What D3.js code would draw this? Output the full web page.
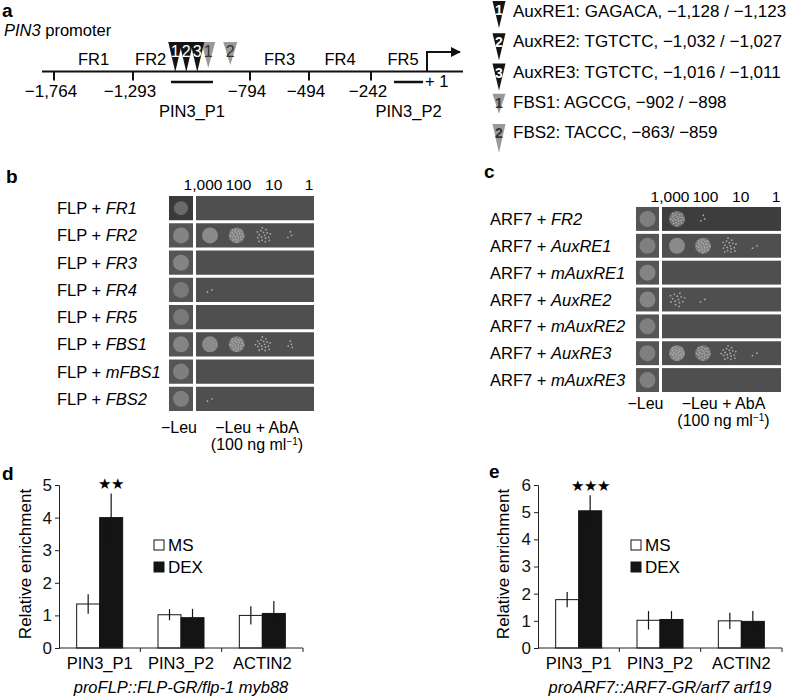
<!DOCTYPE html>
<html>
<head>
<meta charset="utf-8">
<script src="https://cdn.jsdelivr.net/npm/d3@7"></script>
<style>
body { margin: 0; background: #fff; }
svg { font-family: "Liberation Sans", Arial, Helvetica, sans-serif; }
</style>
</head>
<body>
<div id="fig"></div>
<script>
// panel a - PIN3 promoter schematic
var tickPos = [-1764, -1293, -794, -494, -242];
var fragNames = ["FR1", "FR2", "FR3", "FR4", "FR5"];
var fragStart = [-1764, -1293, -794, -494, -242];
var fragEnd = [-1293, -794, -494, -242, 1];
var motifIds = ["1", "2", "3", "1", "2"];
var motifType = ["AuxRE", "AuxRE", "AuxRE", "FBS", "FBS"];
var motifStart = [-1128, -1032, -1016, -902, -863];
var motifEnd = [-1123, -1027, -1011, -898, -859];
var motifLabels = ["AuxRE1: GAGACA, \u22121,128 / \u22121,123",
                   "AuxRE2: TGTCTC, \u22121,032 / \u22121,027",
                   "AuxRE3: TGTCTC, \u22121,016 / \u22121,011",
                   "FBS1: AGCCG, \u2212902 / \u2212898",
                   "FBS2: TACCC, \u2212863/ \u2212859"];
var ampNames = ["PIN3_P1", "PIN3_P2"];
var ampStart = [-1131, -142];
var ampEnd = [-952, -16];

// panels b, c - yeast one-hybrid plates (growth score 0-3 per spot: -Leu, 1000, 100, 10, 1)
var dilutions = ["1,000", "100", "10", "1"];
var flpRows = ["FR1", "FR2", "FR3", "FR4", "FR5", "FBS1", "mFBS1", "FBS2"];
var flpGrowth = [[1, 0, 0, 0, 0], [2.5, 3, 2, 1.2, 0.4], [2.5, 0, 0, 0, 0], [1.5, 0.3, 0, 0, 0],
                 [1.5, 0, 0, 0, 0], [2.5, 3, 2.2, 1.3, 0.5], [2, 0, 0, 0, 0], [2, 0.3, 0, 0, 0]];
var arfRows = ["FR2", "AuxRE1", "mAuxRE1", "AuxRE2", "mAuxRE2", "AuxRE3", "mAuxRE3"];
var arfGrowth = [[2, 1.6, 0.4, 0, 0], [2, 3, 2.2, 1.2, 0.3], [2.5, 0, 0, 0, 0], [2.5, 1, 0.3, 0, 0],
                 [2, 0, 0, 0, 0], [2, 2.5, 1.6, 1.3, 0.3], [2, 0, 0, 0, 0]];

// panels d, e - ChIP-qPCR
var genes = ["PIN3_P1", "PIN3_P2", "ACTIN2"];
var treatments = ["MS", "DEX"];
var flpMS = [1.35, 1.02, 1.0];
var flpMSErr = [0.3, 0.17, 0.28];
var flpDEX = [4.0, 0.93, 1.06];
var flpDEXErr = [0.74, 0.27, 0.38];
var arfMS = [1.78, 1.02, 1.0];
var arfMSErr = [0.28, 0.34, 0.3];
var arfDEX = [5.05, 1.05, 0.98];
var arfDEXErr = [0.57, 0.31, 0.38];

var minus = function(s) { return s.replace(/-/g, "\u2212"); };
var fmt = d3.format(",");

var svg = d3.select("#fig").append("svg")
    .attr("width", 788)
    .attr("height", 698);

function panelLetter(t, x, y) {
    svg.append("text").attr("x", x).attr("y", y)
        .style("font-size", "19px").style("font-weight", "bold").text(t);
}

// ---------- a ----------
panelLetter("a", 2, 17);
var ptxt = svg.append("text").attr("x", 4).attr("y", 36).style("font-size", "16.5px");
ptxt.append("tspan").style("font-style", "italic").text("PIN3");
ptxt.append("tspan").text(" promoter");

var gx = d3.scaleLinear()
    .domain(tickPos.concat([1]))
    .range([54, 133, 250, 309, 371, 427]);
var lineY = 71.5;

svg.append("line").attr("x1", gx(-1764) - 12).attr("x2", gx(1) + 36)
    .attr("y1", lineY).attr("y2", lineY)
    .attr("stroke", "#111").attr("stroke-width", 2);

var ga = svg.append("g");
ga.selectAll(".tk").data(tickPos).enter().append("line")
    .attr("x1", function(d) { return gx(d); }).attr("x2", function(d) { return gx(d); })
    .attr("y1", lineY).attr("y2", lineY + 9)
    .attr("stroke", "#111").attr("stroke-width", 2);
ga.selectAll(".tl").data(tickPos).enter().append("text")
    .attr("x", function(d) { return gx(d) - 3; }).attr("y", 97)
    .attr("text-anchor", "middle").style("font-size", "17px")
    .text(function(d) { return minus(fmt(d)); });

// motif markers, packed side by side as in a schematic
var motifX = [];
motifStart.forEach(function(s, i) {
    if (i == 0) motifX.push(gx((s + motifEnd[i]) / 2) + 3);
    else motifX.push(motifX[i - 1] + (motifType[i - 1] == "FBS" ? 22 : 11));
});
var triTop = 42;
function tri(x, top, w, h) {
    return [[x - w / 2, top], [x + w / 2, top], [x, top + h]].join(" ");
}
var order = [4, 3, 2, 1, 0];
order.forEach(function(i) {
    var h = motifType[i] == "AuxRE" ? 30 : (i == 3 ? 26 : 23);
    ga.append("polygon").attr("points", tri(motifX[i], triTop, 14, h))
        .attr("fill", motifType[i] == "AuxRE" ? "#141414" : "#9a9a9a");
});
motifIds.forEach(function(t, i) {
    ga.append("text").attr("x", motifX[i]).attr("y", 57).attr("text-anchor", "middle")
        .style("font-size", "16px")
        .attr("fill", motifType[i] == "AuxRE" ? "#fff" : "#333").text(t);
});

// fragment labels
fragNames.forEach(function(n, i) {
    var x0 = gx(fragStart[i]), x1 = gx(fragEnd[i]);
    if (i == 1) x1 = motifX[0] - 7;
    ga.append("text").attr("x", (x0 + x1) / 2 + (i == 4 ? 4 : 0)).attr("y", 65)
        .attr("text-anchor", "middle").style("font-size", "16.5px").text(n);
});

// amplicons
ampNames.forEach(function(n, i) {
    var x0 = gx(ampStart[i]), x1 = gx(ampEnd[i]);
    ga.append("line").attr("x1", x0).attr("x2", x1).attr("y1", 82).attr("y2", 82)
        .attr("stroke", "#111").attr("stroke-width", 2.5);
    ga.append("text").attr("x", (x0 + x1) / 2).attr("y", 117)
        .attr("text-anchor", "middle").style("font-size", "16.5px").text(n);
});
ga.append("text").attr("x", gx(1) - 2).attr("y", 87).style("font-size", "16.5px").text("+ 1");

// transcription start arrow
svg.append("defs").append("marker").attr("id", "ah")
    .attr("viewBox", "0 0 10 10").attr("refX", 9).attr("refY", 5)
    .attr("markerWidth", 5).attr("markerHeight", 5).attr("orient", "auto")
    .append("path").attr("d", "M0,0L10,5L0,10z").attr("fill", "#111");
ga.append("path")
    .attr("d", "M" + gx(1) + "," + lineY + "V52H" + (gx(1) + 33))
    .attr("fill", "none").attr("stroke", "#111").attr("stroke-width", 2)
    .attr("marker-end", "url(#ah)");

// motif key
var ky = d3.scalePoint().domain(d3.range(5)).range([17, 138]);
motifLabels.forEach(function(t, i) {
    var y = ky(i);
    var h = motifType[i] == "AuxRE" ? 27 : (i == 3 ? 20 : 29);
    var top = i == 0 ? 1 : y - 14;
    svg.append("polygon").attr("points", tri(499, top, 13, h))
        .attr("fill", motifType[i] == "AuxRE" ? "#141414" : "#9a9a9a");
    svg.append("text").attr("x", 499).attr("y", top + 14).attr("text-anchor", "middle")
        .style("font-size", "14px").style("font-weight", "bold")
        .attr("fill", motifType[i] == "AuxRE" ? "#fff" : "#333").text(motifIds[i]);
    svg.append("text").attr("x", 513).attr("y", y).style("font-size", "17px").text(t);
});

// ---------- b, c ----------
function speckle(g, cx, cy, n, r) {
    for (var k = 0; k < n; k++) {
        var a = k * 2.39996, rr = r * Math.sqrt((k + 0.5) / n);
        g.append("circle").attr("cx", cx + rr * Math.cos(a)).attr("cy", cy + rr * Math.sin(a))
            .attr("r", 0.9).attr("fill", "#aaa");
    }
}

function platePanel(o) {
    var y = d3.scaleBand().domain(d3.range(o.rows.length)).range([o.top, o.bottom]).paddingInner(0.11);
    var sx = d3.scalePoint().domain(dilutions).range(o.spotRange);
    var hx = d3.scalePoint().domain(dilutions).range(o.headRange);
    var g = svg.append("g");
    dilutions.forEach(function(d) {
        g.append("text").attr("x", hx(d)).attr("y", o.headY).attr("text-anchor", "middle")
            .style("font-size", "15.5px").text(d);
    });
    o.rows.forEach(function(r, i) {
        var t = g.append("text").attr("x", o.labelX).attr("y", y(i) + y.bandwidth() / 2 + 6)
            .style("font-size", "16.5px");
        t.append("tspan").text(o.prefix + " + ");
        t.append("tspan").style("font-style", "italic").text(r);
        g.append("rect").attr("x", o.left).attr("y", y(i)).attr("width", o.leftW).attr("height", y.bandwidth())
            .attr("fill", o.darkLeft == i ? "#3a3a3a" : "#555");
        g.append("rect").attr("x", o.left + o.leftW + 3).attr("y", y(i))
            .attr("width", o.right - o.left - o.leftW - 3).attr("height", y.bandwidth())
            .attr("fill", o.darkRight == i ? "#3d3d3d" : "#4f4f4f");
        var cy = y(i) + y.bandwidth() / 2;
        o.growth[i].forEach(function(v, j) {
            var cx = j == 0 ? o.left + o.leftW / 2 : sx(dilutions[j - 1]);
            if (v >= 1.5) {
                g.append("circle").attr("cx", cx).attr("cy", cy).attr("r", 8)
                    .attr("fill", "#8d8d8d").attr("opacity", 0.35 + v * 0.2);
                if (v < 2.6 && j > 0) speckle(g, cx, cy, 22, 7);
            } else if (v >= 0.8) {
                if (j == 0) g.append("circle").attr("cx", cx).attr("cy", cy).attr("r", 7)
                    .attr("fill", "#6a6a6a");
                else speckle(g, cx, cy, Math.round(v * 14), 8);
            } else if (v > 0) {
                speckle(g, cx, cy, Math.round(v * 8), 4);
            }
        });
    });
    var mid = (o.left + o.leftW + 3 + o.right) / 2;
    g.append("text").attr("x", o.left + o.leftW / 2 - 2).attr("y", o.footY).attr("text-anchor", "middle")
        .style("font-size", "16px").text("\u2212Leu");
    g.append("text").attr("x", mid + 2).attr("y", o.footY).attr("text-anchor", "middle")
        .style("font-size", "16px").text("\u2212Leu + AbA");
    var f = g.append("text").attr("x", mid + 2).attr("y", o.footY + 17).attr("text-anchor", "middle")
        .style("font-size", "16px");
    f.append("tspan").text("(100 ng ml");
    f.append("tspan").attr("dy", -5).style("font-size", "10px").text("\u22121");
    f.append("tspan").attr("dy", 5).text(")");
}

panelLetter("b", 6, 183);
platePanel({ rows: flpRows, growth: flpGrowth, prefix: "FLP", labelX: 57,
    left: 169, leftW: 24, right: 314, top: 196, bottom: 411,
    spotRange: [210, 290], headRange: [203, 309], headY: 190, footY: 433, darkLeft: 0 });

panelLetter("c", 484, 178);
platePanel({ rows: arfRows, growth: arfGrowth, prefix: "ARF7", labelX: 490,
    left: 636, leftW: 23, right: 781, top: 207, bottom: 392,
    spotRange: [677, 755], headRange: [670, 776], headY: 202, footY: 409, darkRight: 0 });

// ---------- d, e ----------
function barPanel(o) {
    var g = svg.append("g");
    var x = d3.scaleBand().domain(genes).range([o.x0, o.x1]);
    var y = d3.scaleLinear().domain([0, o.ymax]).range([648, 485]);
    var vals = [o.ms, o.dex], errs = [o.msErr, o.dexErr];
    var bw = 23;

    g.append("g").attr("transform", "translate(" + o.x0 + ",0)")
        .call(d3.axisLeft(y).ticks(o.ymax).tickSize(4).tickPadding(3))
        .call(function(s) {
            s.select(".domain").attr("stroke", "#222");
            s.selectAll("line").attr("stroke", "#222");
            s.selectAll("text").style("font-size", "17px").attr("fill", "#111")
                .style("font-family", "'Liberation Sans', Arial, sans-serif");
        });

    treatments.forEach(function(tr, k) {
        genes.forEach(function(gn, i) {
            var cx = x(gn) + x.bandwidth() / 2;
            var bx = k == 0 ? cx - bw : cx;
            g.append("rect").attr("x", bx).attr("y", y(vals[k][i]))
                .attr("width", bw).attr("height", y(0) - y(vals[k][i]))
                .attr("fill", k == 0 ? "#fff" : "#141414")
                .attr("stroke", "#141414").attr("stroke-width", 1);
            g.append("line").attr("x1", bx + bw / 2).attr("x2", bx + bw / 2)
                .attr("y1", y(vals[k][i] + errs[k][i])).attr("y2", y(vals[k][i] - errs[k][i]))
                .attr("stroke", "#141414").attr("stroke-width", 1.2);
        });
    });

    // x axis
    g.append("line").attr("x1", o.x0).attr("x2", o.x1).attr("y1", 648).attr("y2", 648)
        .attr("stroke", "#222");
    genes.forEach(function(gn, i) {
        if (i > 0) g.append("line").attr("x1", x(gn)).attr("x2", x(gn)).attr("y1", 648).attr("y2", 652)
            .attr("stroke", "#222");
        g.append("text").attr("x", x(gn) + x.bandwidth() / 2).attr("y", 669)
            .attr("text-anchor", "middle").style("font-size", "16.5px").text(gn);
    });
    g.append("line").attr("x1", o.x1).attr("x2", o.x1).attr("y1", 648).attr("y2", 652).attr("stroke", "#222");

    var cx0 = x(genes[0]) + x.bandwidth() / 2 + bw / 2;
    g.append("text").attr("x", cx0).attr("y", y(o.dex[0] + o.dexErr[0]) - 4)
        .attr("text-anchor", "middle").style("font-size", "15px").text(o.stars);

    // legend
    treatments.forEach(function(tr, k) {
        g.append("rect").attr("x", o.legX).attr("y", 540 + k * 22).attr("width", 10).attr("height", 10)
            .attr("fill", k == 0 ? "#fff" : "#141414").attr("stroke", "#141414");
        g.append("text").attr("x", o.legX + 14).attr("y", 551 + k * 22)
            .style("font-size", "17px").text(tr);
    });

    g.append("text").attr("transform", "translate(" + o.ylabX + ",564) rotate(-90)")
        .attr("text-anchor", "middle").style("font-size", "17px").text("Relative enrichment");
    g.append("text").attr("x", (o.x0 + o.x1) / 2).attr("y", 693).attr("text-anchor", "middle")
        .style("font-size", "16.5px").style("font-style", "italic").text(o.sub);
}

panelLetter("d", 2, 480);
barPanel({ x0: 59, x1: 303, ymax: 5, ms: flpMS, msErr: flpMSErr, dex: flpDEX, dexErr: flpDEXErr,
    stars: "\u2605\u2605", legX: 154, ylabX: 31, sub: "proFLP::FLP-GR/flp-1 myb88" });

panelLetter("e", 489, 478);
barPanel({ x0: 538, x1: 782, ymax: 6, ms: arfMS, msErr: arfMSErr, dex: arfDEX, dexErr: arfDEXErr,
    stars: "\u2605\u2605\u2605", legX: 631, ylabX: 509, sub: "proARF7::ARF7-GR/arf7 arf19" });
</script>
</body>
</html>
